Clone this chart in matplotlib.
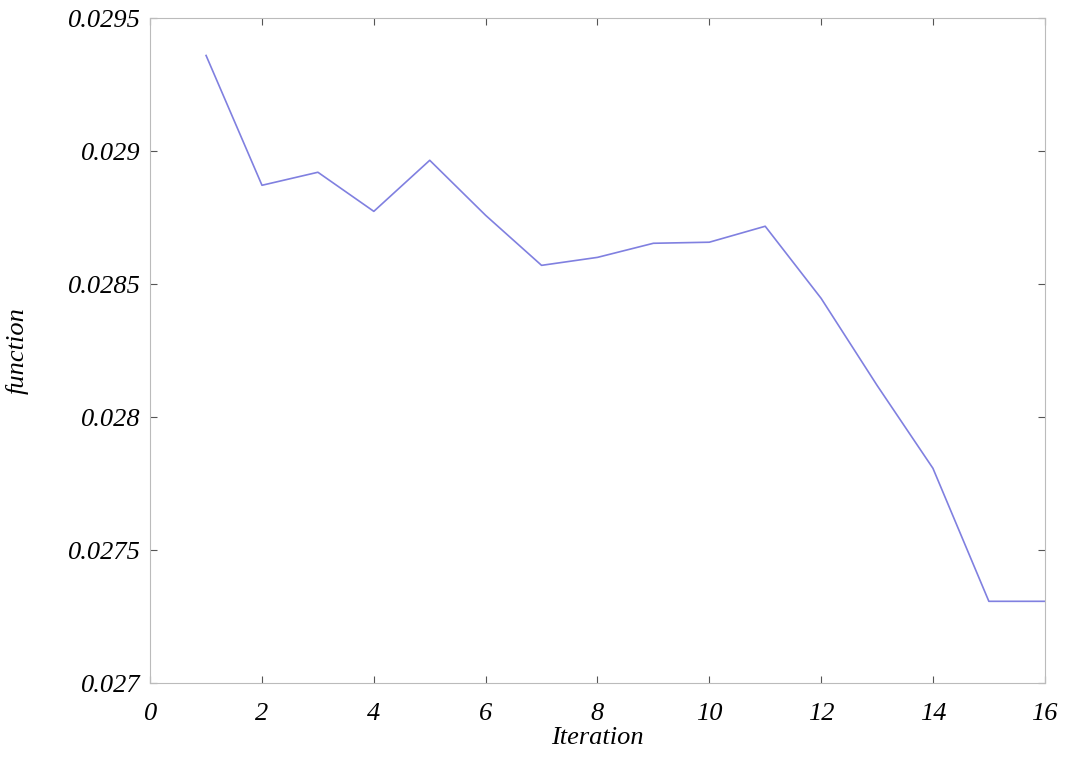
import matplotlib
matplotlib.use('Agg')
import matplotlib.pyplot as plt

iterations = [1, 2, 3, 4, 5, 6, 7, 8, 9, 10, 11, 12, 13, 14, 15, 16]
function_values = [0.02936, 0.028872, 0.028921, 0.028774, 0.028966, 0.028759, 0.028571,
                   0.028601, 0.028654, 0.028658, 0.028718, 0.028447, 0.02812, 0.027808,
                   0.027308, 0.027308]
x_ticks = [0, 2, 4, 6, 8, 10, 12, 14, 16]
y_ticks = [0.027, 0.0275, 0.028, 0.0285, 0.029, 0.0295]
y_labels = ['0.027', '0.0275', '0.028', '0.0285', '0.029', '0.0295']

plt.rcParams['font.family'] = ['Liberation Serif', 'DejaVu Serif']

fig = plt.figure(figsize=(10.65, 7.6), dpi=100)
ax = fig.add_axes([0.141, 0.101, 0.84, 0.875])
ax.plot(iterations, function_values, color='#8080e0', linewidth=1.2)
ax.set_xlim(0, 16)
ax.set_ylim(0.027, 0.0295)
ax.set_xticks(x_ticks)
ax.set_xticklabels([str(t) for t in x_ticks], fontsize=19, style='italic')
ax.set_yticks(y_ticks)
ax.set_yticklabels(y_labels, fontsize=19, style='italic')
ax.tick_params(direction='in', top=True, right=True, length=5, color='#555555')
ax.tick_params(axis='x', pad=14)
ax.tick_params(axis='y', pad=7)
for s in ax.spines.values():
    s.set_color('#bbbbbb')
ax.set_xlabel('Iteration', fontsize=19, style='italic', labelpad=2)
ax.set_ylabel('function', fontsize=19, style='italic', labelpad=28)
fig.savefig('out.png')
